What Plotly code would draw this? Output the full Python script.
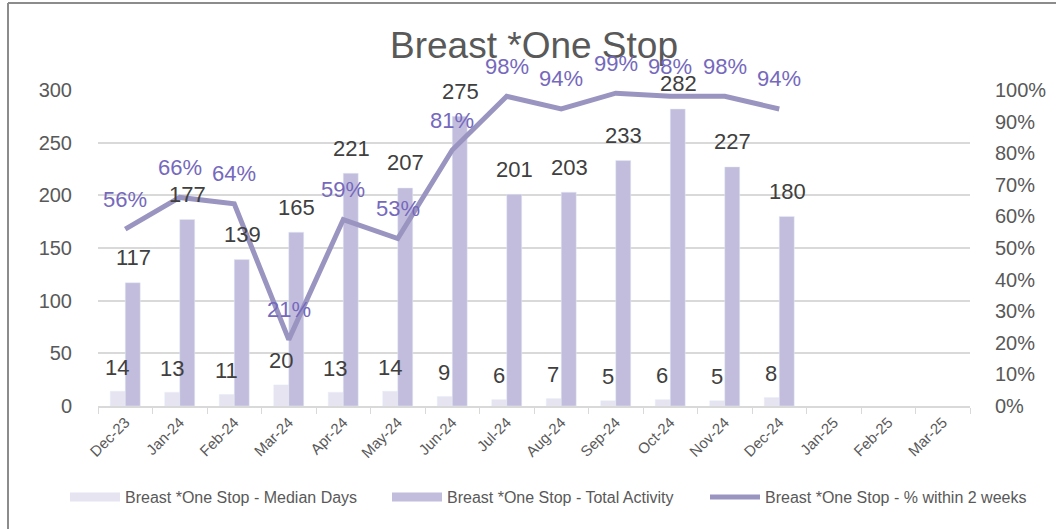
import plotly.graph_objects as go

categories = ["Dec-23", "Jan-24", "Feb-24", "Mar-24", "Apr-24", "May-24", "Jun-24", "Jul-24",
              "Aug-24", "Sep-24", "Oct-24", "Nov-24", "Dec-24", "Jan-25", "Feb-25", "Mar-25"]
median_days = [14, 13, 11, 20, 13, 14, 9, 6, 7, 5, 6, 5, 8, None, None, None]
total_activity = [117, 177, 139, 165, 221, 207, 275, 201, 203, 233, 282, 227, 180, None, None, None]
pct_2weeks = [0.56, 0.66, 0.64, 0.21, 0.59, 0.53, 0.81, 0.98, 0.94, 0.99, 0.98, 0.98, 0.94, None, None, None]

C_MED = "#e6e4f0"
C_TOT = "#c2bddc"
C_LINE = "#9a94c1"
C_PCT = "#7569bd"
C_LAB = "#404040"
C_AX = "#595959"
FONT = "Liberation Sans, Arial, sans-serif"

fig = go.Figure()
fig.add_trace(go.Bar(x=categories, y=median_days, name="Breast *One Stop - Median Days",
                     marker_color=C_MED, yaxis="y", showlegend=False, legendgroup="med"))
fig.add_trace(go.Bar(x=categories, y=total_activity, name="Breast *One Stop - Total Activity",
                     marker_color=C_TOT, yaxis="y", showlegend=False, legendgroup="tot"))
fig.add_trace(go.Scatter(x=categories, y=pct_2weeks, name="Breast *One Stop - % within 2 weeks",
                         mode="lines", line=dict(color=C_LINE, width=5), yaxis="y2",
                         showlegend=False, legendgroup="pct"))
# legend entries styled like the reference (wide swatches)
fig.add_trace(go.Scatter(x=[None], y=[None], name="Breast *One Stop - Median Days", mode="lines",
                         line=dict(color=C_MED, width=9), legendgroup="med", legend="legend"))
fig.add_trace(go.Scatter(x=[None], y=[None], name="Breast *One Stop - Total Activity", mode="lines",
                         line=dict(color=C_TOT, width=9), legendgroup="tot", legend="legend2"))
fig.add_trace(go.Scatter(x=[None], y=[None], name="Breast *One Stop - % within 2 weeks", mode="lines",
                         line=dict(color=C_LINE, width=5), legendgroup="pct", yaxis="y2",
                         legend="legend3"))

annotations = []
for c, v in zip(categories, median_days):
    if v is not None:
        annotations.append(dict(x=c, y=v, xref="x", yref="y", text=str(v), showarrow=False,
                                xshift=-8, yshift=24, font=dict(size=22, color=C_LAB, family=FONT)))
for c, v in zip(categories, total_activity):
    if v is not None:
        annotations.append(dict(x=c, y=v, xref="x", yref="y", text=str(v), showarrow=False,
                                xshift=8, yshift=25, font=dict(size=22, color=C_LAB, family=FONT)))
for c, v in zip(categories, pct_2weeks):
    if v is not None:
        annotations.append(dict(x=c, y=v, xref="x", yref="y2", text=f"{round(v*100)}%", showarrow=False,
                                yshift=30, font=dict(size=22, color=C_PCT, family=FONT)))


def leg(xpx):
    return dict(orientation="h", x=xpx / 1056, xanchor="left", xref="container",
                y=1 - 497 / 529, yref="container", yanchor="middle",
                font=dict(size=16, color=C_AX), itemwidth=50, bgcolor="rgba(0,0,0,0)")


fig.update_layout(
    width=1056, height=529,
    margin=dict(l=98, r=86, t=90, b=123, autoexpand=False),
    paper_bgcolor="white", plot_bgcolor="white",
    font=dict(family=FONT, color=C_AX),
    title=dict(text="Breast *One Stop", x=0.5, xref="paper", xanchor="center",
               y=1 - 45 / 529, yref="container", yanchor="middle",
               font=dict(size=37, color=C_AX, family=FONT)),
    barmode="group", bargap=0.45, bargroupgap=0,
    xaxis=dict(type="category", tickangle=-45, tickfont=dict(size=15, color=C_AX),
               showline=True, linecolor="#d9d9d9", linewidth=1.5,
               ticks="outside", tickson="boundaries", ticklen=6, tickcolor="#d9d9d9",
               showgrid=False),
    yaxis=dict(range=[0, 300], dtick=50, showgrid=True, gridcolor="#d9d9d9", gridwidth=1.5,
               zeroline=False, tickfont=dict(size=20, color=C_AX), ticks="", ticklabelstandoff=25),
    yaxis2=dict(range=[0, 1], dtick=0.1, tickformat=".0%", overlaying="y", side="right",
                showgrid=False, zeroline=False, tickfont=dict(size=20, color=C_AX),
                ticklabelstandoff=24),
    legend=leg(65),
    legend2=leg(387),
    legend3=leg(705),
    annotations=annotations,
    shapes=[
        dict(type="line", xref="paper", yref="paper", x0=(8 - 98) / 872, x1=(1060 - 98) / 872,
             y0=(406 - 3) / 316, y1=(406 - 3) / 316, line=dict(color="#8c8c8c", width=2)),
        dict(type="line", xref="paper", yref="paper", x0=(8 - 98) / 872, x1=(8 - 98) / 872,
             y0=(406 - 3) / 316, y1=(406 - 535) / 316, line=dict(color="#8c8c8c", width=2)),
    ],
)

fig.write_html("out.html", config={"displayModeBar": False},
               post_script="document.body.style.margin='0';document.body.style.overflow='hidden';")
